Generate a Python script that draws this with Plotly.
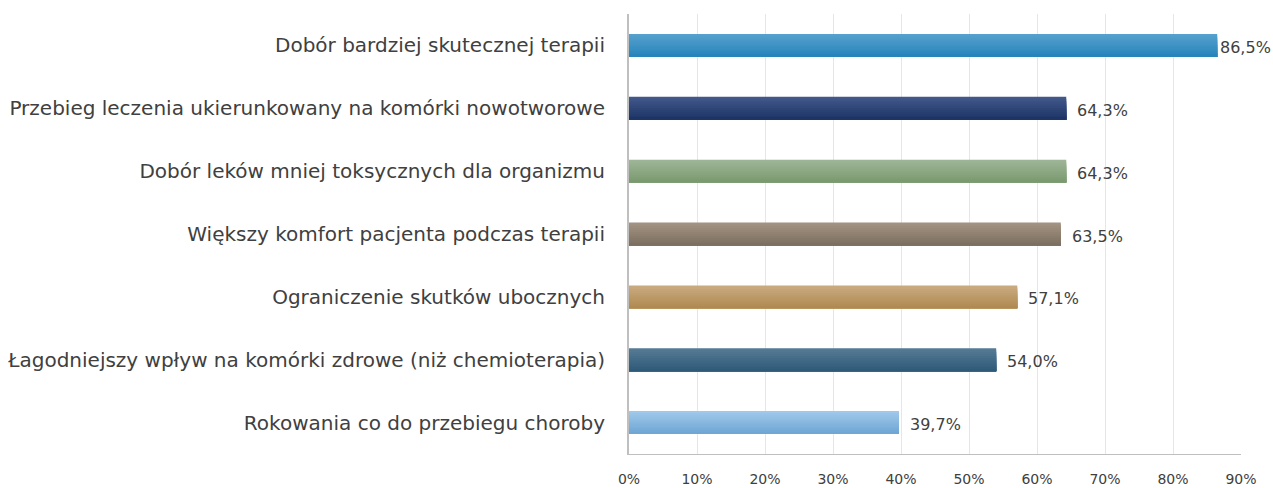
import plotly.graph_objects as go

categories = [
    "Dobór bardziej skutecznej terapii",
    "Przebieg leczenia ukierunkowany na komórki nowotworowe",
    "Dobór leków mniej toksycznych dla organizmu",
    "Większy komfort pacjenta podczas terapii",
    "Ograniczenie skutków ubocznych",
    "Łagodniejszy wpływ na komórki zdrowe (niż chemioterapia)",
    "Rokowania co do przebiegu choroby",
]
values = [86.5, 64.3, 64.3, 63.5, 57.1, 54.0, 39.7]
labels = ["86,5%", "64,3%", "64,3%", "63,5%", "57,1%", "54,0%", "39,7%"]
top_colors = ["#55a0cc", "#43588a", "#9db596", "#a29282", "#c9aa7f", "#557a94", "#9fc8ea"]
bottom_colors = ["#2885bc", "#1c3466", "#7b9a70", "#7d7060", "#b08a52", "#2f5a78", "#6fa6d4"]
tick_vals = [0, 10, 20, 30, 40, 50, 60, 70, 80, 90]
tick_text = ["0%", "10%", "20%", "30%", "40%", "50%", "60%", "70%", "80%", "90%"]

FONT = "DejaVu Sans"
BAR_W = 0.365
N = 12
W, H = 1273, 488
ML, MR = 629, 32
X_MAX = 90
LABEL_PX = 53  # approximate rendered width of a value label


def hex2rgb(h):
    h = h.lstrip("#")
    return tuple(int(h[i:i + 2], 16) for i in (0, 2, 4))


def mix(c1, c2, t):
    a, b = hex2rgb(c1), hex2rgb(c2)
    return "rgb(%d,%d,%d)" % tuple(round(a[i] + (b[i] - a[i]) * t) for i in range(3))


fig = go.Figure()
# vertical gradient: each slice runs from its start down to the bar bottom,
# later (darker) slices are drawn on top -> no seams
for i in range(N):
    t = i / (N - 1)
    cols = [mix(tc, bc, t) for tc, bc in zip(top_colors, bottom_colors)]
    start = -BAR_W / 2 + i * BAR_W / N
    fig.add_trace(go.Bar(
        y=categories, x=values, orientation="h",
        width=BAR_W - i * BAR_W / N,
        offset=start,
        marker=dict(color=cols, line=dict(width=0)),
        hoverinfo="skip", showlegend=False,
    ))

plot_w = W - ML - MR
for cat, val, lab in zip(categories, values, labels):
    room = W - (ML + val / X_MAX * plot_w) - LABEL_PX
    shift = max(1, min(10, int(room)))
    fig.add_annotation(
        x=val, y=cat, text=lab, showarrow=False,
        xanchor="left", yanchor="middle", xshift=shift, yshift=-2,
        borderpad=0,
        font=dict(family=FONT, size=16, color="#404040"),
    )

fig.update_layout(
    width=W, height=H,
    margin=dict(l=ML, r=MR, t=14, b=34, autoexpand=False),
    plot_bgcolor="white", paper_bgcolor="white",
    barmode="overlay",
    font=dict(family=FONT, color="#404040"),
)
fig.update_xaxes(
    range=[0, X_MAX], tickvals=tick_vals, ticktext=tick_text,
    showgrid=True, gridcolor="#e6e6e6", gridwidth=1,
    zeroline=False, showline=True, linecolor="#bfbfbf", linewidth=1,
    tickfont=dict(family=FONT, size=14, color="#404040"),
    ticks="", ticklabelstandoff=12, automargin=False,
)
fig.update_yaxes(
    categoryorder="array", categoryarray=categories, autorange="reversed",
    showline=True, linecolor="#bfbfbf", linewidth=2,
    tickfont=dict(family=FONT, size=20, color="#404040"),
    ticks="", ticklabelstandoff=18, showgrid=False, automargin=False,
)

fig.write_html("out.html", config={"displayModeBar": False},
               post_script="document.body.style.margin='0';")
